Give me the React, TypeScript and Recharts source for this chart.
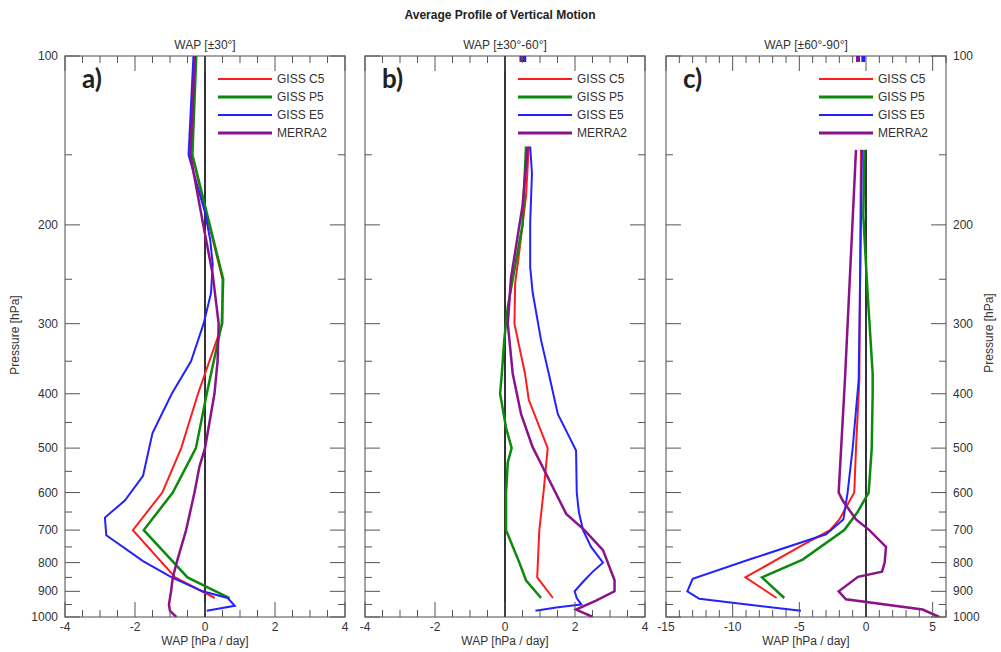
import React from "react";
import {
    ScatterChart,
    Scatter,
    XAxis,
    YAxis,
    ReferenceLine,
    ReferenceArea,
    Legend
} from "recharts";

const W = 1001;
const H = 652;
const PLOT_TOP = 56;
const PLOT_BOTTOM = 617;
const TICK = "#555";
const FONT = "'Liberation Sans', Arial, sans-serif";

// pressure levels [hPa] and x ticks
const pressureTicks = [100, 150, 200, 250, 300, 350, 400, 450, 500, 550, 600, 650, 700, 750, 800, 850, 900, 950, 1000];
const narrowTicks = [-4, -3.5, -3, -2.5, -2, -1.5, -1, -0.5, 0, 0.5, 1, 1.5, 2, 2.5, 3, 3.5, 4];
const wideTicks = [-15, -14, -13, -12, -11, -10, -9, -8, -7, -6, -5, -4, -3, -2, -1, 0, 1, 2, 3, 4, 5, 6];

const seriesNames = ["GISS C5", "GISS P5", "GISS E5", "MERRA2"];
const seriesColors = ["#ff1c1c", "#0b8a0b", "#2222ff", "#8a128a"];
const lineWidths = [2, 2.5, 2, 2.5];
const legendWidths = [2, 3, 2, 3];

// [pressure, WAP] pairs
// a) ±30°
const aC5 = [[100, -0.29], [150, -0.37], [250, 0.5], [300, 0.5], [400, -0.2], [500, -0.68], [600, -1.22], [700, -2.06], [850, -0.85], [925, 0.28]];
const aP5 = [[100, -0.25], [150, -0.36], [250, 0.52], [300, 0.48], [400, 0.05], [500, -0.26], [600, -0.92], [700, -1.75], [850, -0.5], [925, 0.7]];
const aE5 = [[100, -0.33], [150, -0.47], [190, 0.0], [213, 0.15], [235, 0.22], [265, 0.17], [300, -0.04], [350, -0.4], [400, -0.95], [470, -1.5], [560, -1.77], [620, -2.29], [665, -2.86], [715, -2.82], [795, -1.77], [850, -0.95], [900, -0.07], [925, 0.65], [955, 0.85], [975, 0.05]];
const aM2 = [[100, -0.29], [150, -0.42], [200, -0.05], [245, 0.22], [300, 0.39], [350, 0.36], [400, 0.27], [500, 0.0], [540, -0.16], [600, -0.3], [700, -0.54], [800, -0.81], [850, -0.92], [900, -0.97], [950, -1.03], [975, -1.0], [1000, -0.82]];

// b) ±30°-60°
const bC5 = [[145, 0.68], [178, 0.6], [228, 0.39], [254, 0.29], [300, 0.27], [368, 0.57], [410, 0.68], [500, 1.22], [600, 1.1], [700, 0.98], [850, 0.92], [925, 1.37]];
const bP5 = [[145, 0.6], [200, 0.5], [280, 0.08], [320, -0.02], [368, -0.09], [400, -0.14], [460, 0.03], [500, 0.19], [530, 0.08], [600, 0.03], [700, 0.03], [800, 0.41], [860, 0.6], [925, 1.03]];
const bE5 = [[145, 0.72], [162, 0.77], [198, 0.72], [238, 0.72], [264, 0.79], [321, 1.03], [368, 1.25], [435, 1.51], [478, 1.84], [505, 2.03], [600, 2.05], [650, 2.11], [700, 2.23], [750, 2.46], [800, 2.8], [830, 2.51], [860, 2.27], [900, 1.99], [925, 2.05], [950, 2.18], [962, 1.46], [975, 0.87]];
const bM2 = [[145, 0.65], [185, 0.5], [249, 0.17], [300, 0.08], [368, 0.22], [435, 0.46], [498, 0.79], [555, 1.17], [655, 1.75], [700, 2.27], [760, 2.8], [860, 3.13], [900, 3.13], [935, 2.6], [970, 2.03], [1000, 2.51]];
const bCapM2 = [[100, 0.47], [102.5, 0.47]];
const bCapE5 = [[100, 0.55], [102.5, 0.55]];

// c) ±60°-90°
const cC5 = [[147, -0.38], [378, -0.5], [500, -0.75], [600, -0.88], [670, -2.0], [700, -2.7], [750, -5.0], [850, -9.05], [925, -6.7]];
const cP5 = [[147, -0.12], [193, -0.2], [265, 0.12], [368, 0.5], [400, 0.5], [500, 0.43], [600, 0.2], [650, -0.63], [700, -1.63], [790, -4.75], [850, -7.8], [925, -6.13]];
const cE5 = [[147, -0.3], [378, -0.55], [500, -1.0], [600, -1.38], [670, -1.7], [712, -3.0], [790, -8.75], [855, -13.0], [900, -13.4], [928, -12.5], [975, -4.88]];
const cM2 = [[147, -0.75], [378, -1.58], [600, -2.05], [620, -1.75], [670, -0.75], [700, 0.25], [750, 1.5], [800, 1.4], [830, 1.2], [848, -0.6], [900, -2.05], [930, -1.5], [970, 4.25], [1000, 5.5]];
const cCapM2 = [[100, -0.6], [102.5, -0.6]];
const cCapE5 = [[100, -0.2], [102.5, -0.2]];

const toPts = (arr: number[][]) => arr.map(([p, w]) => ({ p, w }));

type Panel = {
    letter: string;
    subtitle: string;
    left: number;
    right: number;
    domain: [number, number];
    ticks: number[];
    major: number;
    zeroTop: number;
    side: "left" | "right" | "none";
    series: number[][][];
    caps: { idx: number; data: number[][] }[];
};

const panels: Panel[] = [
    { letter: "a)", subtitle: "WAP [\u00b130\u00b0]", left: 65, right: 345, domain: [-4, 4], ticks: narrowTicks, major: 2, zeroTop: 100, side: "left", series: [aC5, aP5, aE5, aM2], caps: [] },
    { letter: "b)", subtitle: "WAP [\u00b130\u00b0-60\u00b0]", left: 365, right: 645, domain: [-4, 4], ticks: narrowTicks, major: 2, zeroTop: 100, side: "none", series: [bC5, bP5, bE5, bM2], caps: [{ idx: 3, data: bCapM2 }, { idx: 2, data: bCapE5 }] },
    { letter: "c)", subtitle: "WAP [\u00b160\u00b0-90\u00b0]", left: 666, right: 946, domain: [-15, 6], ticks: wideTicks, major: 5, zeroTop: 147, side: "right", series: [cC5, cP5, cE5, cM2], caps: [{ idx: 3, data: cCapM2 }, { idx: 2, data: cCapE5 }] }
];

const noShape = () => <g />;

function XTick({ x, payload, major }: any) {
    const v = payload.value;
    const isMajor = Math.abs(v % major) < 1e-9;
    const len = isMajor ? 15 : 7;
    return (
        <g>
            <line x1={x} x2={x} y1={PLOT_BOTTOM} y2={PLOT_BOTTOM - len} stroke={TICK} />
            <line x1={x} x2={x} y1={PLOT_TOP} y2={PLOT_TOP + len} stroke={TICK} />
            {isMajor && (
                <text x={x} y={PLOT_BOTTOM + 14} textAnchor="middle" fontSize={12} fill="#333" fontFamily={FONT}>
                    {v}
                </text>
            )}
        </g>
    );
}

function YTick({ y, payload, panel }: any) {
    const v = payload.value;
    const isMajor = v % 100 === 0;
    const len = isMajor ? 15 : 7;
    return (
        <g>
            <line x1={panel.left} x2={panel.left + len} y1={y} y2={y} stroke={TICK} />
            <line x1={panel.right - len} x2={panel.right} y1={y} y2={y} stroke={TICK} />
            {isMajor && panel.side === "left" && (
                <text x={panel.left - 7} y={y + 4} textAnchor="end" fontSize={12} fill="#333" fontFamily={FONT}>{v}</text>
            )}
            {isMajor && panel.side === "right" && (
                <text x={panel.right + 7} y={y + 4} textAnchor="start" fontSize={12} fill="#333" fontFamily={FONT}>{v}</text>
            )}
        </g>
    );
}

function LegendBox({ payload }: any) {
    const items = (payload || [])
        .filter((e: any) => e.type !== "none" && seriesNames.includes(e.value))
        .sort((a: any, b: any) => seriesNames.indexOf(a.value) - seriesNames.indexOf(b.value));
    return (
        <div style={{ fontFamily: FONT }}>
            {items.map((e: any) => {
                const i = seriesNames.indexOf(e.value);
                return (
                    <div key={e.value} style={{ display: "flex", alignItems: "center", height: 18 }}>
                        <svg width={54} height={6}>
                            <line x1={0} x2={54} y1={3} y2={3} stroke={seriesColors[i]} strokeWidth={legendWidths[i]} />
                        </svg>
                        <span style={{ marginLeft: 5, fontSize: 12, color: "#333", lineHeight: "18px" }}>{e.value}</span>
                    </div>
                );
            })}
        </div>
    );
}

function ProfilePanel({ panel }: { panel: Panel }) {
    return (
        <div style={{ position: "absolute", left: 0, top: 0 }}>
            <ScatterChart width={W} height={H} margin={{ top: PLOT_TOP, bottom: 0, left: 0, right: W - panel.right }}>
                <XAxis
                    type="number"
                    dataKey="w"
                    domain={panel.domain}
                    ticks={panel.ticks}
                    interval={0}
                    height={H - PLOT_BOTTOM}
                    allowDataOverflow
                    tickLine={false}
                    axisLine={false}
                    tick={(p: any) => <XTick {...p} major={panel.major} />}
                    label={{ value: "WAP [hPa / day]", position: "insideBottom", offset: 7, fill: "#333", fontSize: 12, fontFamily: FONT }}
                />
                <YAxis
                    type="number"
                    dataKey="p"
                    scale="log"
                    domain={[100, 1000]}
                    reversed
                    ticks={pressureTicks}
                    interval={0}
                    width={panel.left}
                    allowDataOverflow
                    tickLine={false}
                    axisLine={false}
                    tick={(p: any) => <YTick {...p} panel={panel} />}
                />
                <ReferenceLine
                    segment={[{ x: 0, y: panel.zeroTop }, { x: 0, y: 1000 }]}
                    stroke="#333"
                    strokeWidth={2}
                />
                {panel.series.map((s, i) => (
                    <Scatter
                        key={seriesNames[i]}
                        name={seriesNames[i]}
                        data={toPts(s)}
                        fill={seriesColors[i]}
                        line={{ stroke: seriesColors[i], strokeWidth: lineWidths[i] }}
                        lineType="joint"
                        shape={noShape}
                        isAnimationActive={false}
                    />
                ))}
                {panel.caps.map((c, j) => (
                    <Scatter
                        key={"cap" + j}
                        data={toPts(c.data)}
                        fill={seriesColors[c.idx]}
                        line={{ stroke: seriesColors[c.idx], strokeWidth: 4 }}
                        lineType="joint"
                        shape={noShape}
                        legendType="none"
                        isAnimationActive={false}
                    />
                ))}
                <ReferenceArea
                    x1={panel.domain[0]}
                    x2={panel.domain[1]}
                    y1={100}
                    y2={1000}
                    fill="none"
                    stroke="#888"
                    strokeWidth={1.5}
                />
                <Legend
                    layout="vertical"
                    align="center"
                    verticalAlign="middle"
                    content={<LegendBox />}
                    wrapperStyle={{ top: 70, left: panel.left + 153, width: 120 }}
                />
            </ScatterChart>
        </div>
    );
}

export default function App() {
    return (
        <div style={{ position: "absolute", left: 0, top: 0, width: W, height: H, background: "#fff", fontFamily: FONT }}>
            {panels.map((p) => (
                <ProfilePanel key={p.letter} panel={p} />
            ))}
            <svg width={W} height={H} style={{ position: "absolute", left: 0, top: 0, pointerEvents: "none" }}>
                <text x={500} y={19} textAnchor="middle" fontSize={12} fontWeight="bold" fill="#222" fontFamily={FONT}>
                    Average Profile of Vertical Motion
                </text>
                {panels.map((p) => (
                    <g key={p.letter}>
                        <text x={(p.left + p.right) / 2} y={49} textAnchor="middle" fontSize={12} fill="#333" fontFamily={FONT}>
                            {p.subtitle}
                        </text>
                        <text x={p.left + 17} y={88} fontSize={26} fontWeight="bold" fill="#222" fontFamily="Lato, 'Open Sans', sans-serif">
                            {p.letter}
                        </text>
                    </g>
                ))}
                <text transform="translate(19,335) rotate(-90)" textAnchor="middle" fontSize={12} fill="#333" fontFamily={FONT}>
                    Pressure [hPa]
                </text>
                <text transform="translate(993,333) rotate(-90)" textAnchor="middle" fontSize={12} fill="#333" fontFamily={FONT}>
                    Pressure [hPa]
                </text>
            </svg>
        </div>
    );
}
